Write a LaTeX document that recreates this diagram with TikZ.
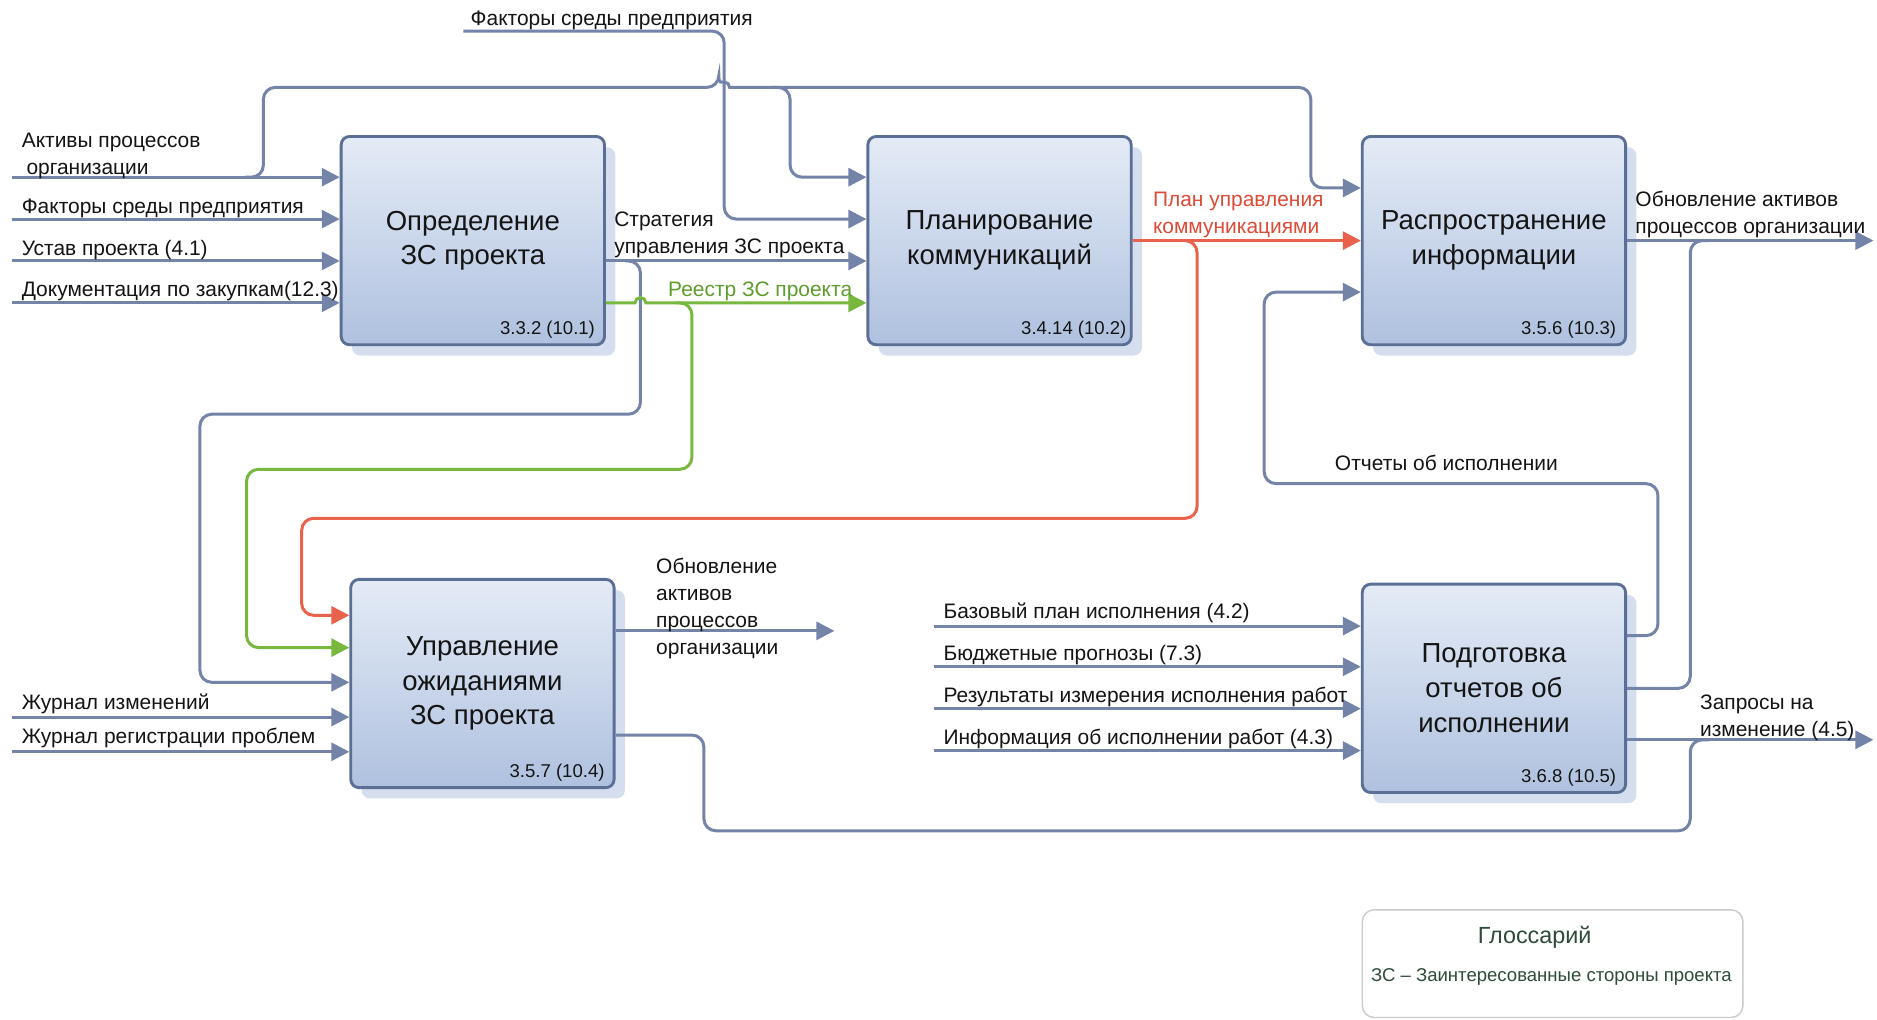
\documentclass[tikz,border=0pt]{standalone}
\usepackage{fontspec}
\setmainfont{Liberation Sans}
\usetikzlibrary{arrows.meta,calc,shadows}

\definecolor{flowc}{HTML}{7384A8}
\definecolor{greenc}{HTML}{79B83F}
\definecolor{redc}{HTML}{E8624C}
\definecolor{greentext}{HTML}{5E9C2C}
\definecolor{redtext}{HTML}{DD4A36}
\definecolor{boxtop}{HTML}{E4EBF6}
\definecolor{boxbot}{HTML}{AFC1DF}
\definecolor{boxline}{HTML}{5B6E96}
\definecolor{shadowc}{HTML}{D4DEEF}
\definecolor{glossline}{HTML}{C9CCCA}
\definecolor{glosstext}{HTML}{2E4A38}
\definecolor{labeltext}{HTML}{141414}

\tikzset{
  proc/.style={draw=boxline, line width=2.4pt, rounded corners=7pt,
    top color=boxtop, bottom color=boxbot,
    minimum width=220pt, minimum height=174pt, inner sep=0pt,
    align=center, font=\fontsize{23}{29}\selectfont, text=labeltext,
    drop shadow={shadow xshift=9pt, shadow yshift=-9pt, fill=shadowc, opacity=1}},
  procid/.style={font=\fontsize{15.5}{18}\selectfont, inner sep=0pt,
    anchor=south east, text=labeltext},
  wire/.style={draw=flowc, line width=2.5pt, rounded corners=10pt},
  flow/.style={wire, -{Triangle[length=15pt,width=15pt]}},
  gflow/.style={flow, draw=greenc},
  rflow/.style={flow, draw=redc},
  lab/.style={font=\fontsize{17.5}{22.5}\selectfont, inner sep=0pt,
    anchor=south west, align=left, text=labeltext,
    execute at end node=\strut},
}

\begin{document}
\begin{tikzpicture}[x=1pt, y=-1pt]
\useasboundingbox (0,0) rectangle (1568,852);
\fill[white] (0,0) rectangle (1568,852);

% process boxes
\node[proc] (b1) at (395,201) {Определение\\ЗС проекта};
\node[proc] (b2) at (835,201) {Планирование\\коммуникаций};
\node[proc] (b3) at (1248,201) {Распространение\\информации};
\node[proc] (b4) at (403,571) {Управление\\ожиданиями\\ЗС проекта};
\node[proc] (b5) at (1248,575) {Подготовка\\отчетов об\\исполнении};

\node[procid] (b1id) at ([xshift=-9pt,yshift=6pt]b1.south east) {3.3.2 (10.1)};
\node[procid] (b2id) at ([xshift=-5pt,yshift=6pt]b2.south east) {3.4.14 (10.2)};
\node[procid] (b3id) at ([xshift=-9pt,yshift=6pt]b3.south east) {3.5.6 (10.3)};
\node[procid] (b4id) at ([xshift=-9pt,yshift=6pt]b4.south east) {3.5.7 (10.4)};
\node[procid] (b5id) at ([xshift=-9pt,yshift=6pt]b5.south east) {3.6.8 (10.5)};

% free ends of the connectors
\coordinate (inA) at (10,148);
\coordinate (inF) at (10,183);
\coordinate (inU) at (10,218);
\coordinate (inD) at (10,253);
\coordinate (inT) at (387,26);
\coordinate (inJ1) at (10,599);
\coordinate (inJ2) at (10,628);
\coordinate (inP1) at (780,523);
\coordinate (inP2) at (780,557);
\coordinate (inP3) at (780,592);
\coordinate (inP4) at (780,627);
\coordinate (outO) at (1565,201);
\coordinate (outC) at (1565,618);
\coordinate (outB4) at (697,527);
% branch and merge points
\coordinate (jA) at (205,148);
\coordinate (jB) at (645,73);
\coordinate (jS) at (522,218);
\coordinate (jG) at (565,253);
\coordinate (jR) at (988,201);
\coordinate (mO) at (1428,201);
\coordinate (mC) at (1428,618);

% inputs of b1
\draw[flow] (inA) -- (b1.west |- inA);
\draw[flow] (inF) -- (b1.west |- inF);
\draw[flow] (inU) -- (b1.west |- inU);
\draw[flow] (inD) -- (b1.west |- inD);

% organisational assets to b2 and b3 (hop over the vertical line at x=605)
\draw[flow] (jA) -- (220,148) -- (220,73) -- (600.5,73) [sharp corners]
  arc[start angle=180, end angle=0, radius=4.5pt] -- (615,73) [rounded corners=10pt]
  -- (1095,73) -- (1095,157) -- (b3.west |- 0,157);
\draw[flow] (jB) -- (660,73) -- (660,148) -- (b2.west |- 0,148);

% enterprise factors to b2
\draw[flow] (inT) -- (605,26) -- (605,183) -- (b2.west |- 0,183);

% strategy from b1
\draw[flow] (b1.east |- 0,218) -- (b2.west |- 0,218);
\draw[flow] (jS) -- (535,218) -- (535,346) -- (167,346) -- (167,570) -- (b4.west |- 0,570);

% register from b1 (hop over the strategy branch)
\draw[gflow, sharp corners] (b1.east |- 0,253) -- (530.5,253)
  arc[start angle=180, end angle=0, radius=4.5pt] -- (b2.west |- 0,253);
\draw[gflow] (jG) -- (578,253) -- (578,392) -- (206,392) -- (206,541) -- (b4.west |- 0,541);

% communication plan from b2
\draw[rflow] (b2.east) -- (b3.west);
\draw[rflow] (jR) -- (1000,201) -- (1000,433) -- (252,433) -- (252,514) -- (b4.west |- 0,514);

% outputs of b3 and b5
\draw[flow] (b3.east) -- (outO);
\draw[wire] (b5.east) -- (1412,575) -- (1412,201) -- (mO);
\draw[flow] (b5.east |- 0,531) -- (1385,531) -- (1385,404) -- (1056,404) -- (1056,244) -- (b3.west |- 0,244);
\draw[flow] (b5.east |- outC) -- (outC);

% outputs of b4
\draw[flow] (b4.east |- outB4) -- (outB4);
\draw[wire] (b4.east |- 0,614) -- (588,614) -- (588,694) -- (1412,694) -- (1412,618) -- (mC);

% inputs of b4 and b5
\draw[flow] (inJ1) -- (b4.west |- inJ1);
\draw[flow] (inJ2) -- (b4.west |- inJ2);
\draw[flow] (inP1) -- (b5.west |- inP1);
\draw[flow] (inP2) -- (b5.west |- inP2);
\draw[flow] (inP3) -- (b5.west |- inP3);
\draw[flow] (inP4) -- (b5.west |- inP4);

% connector labels
\node[lab] (lT) at (393,28) {Факторы среды предприятия};
\node[lab] (lA) at (18,153) {Активы процессов\\\hspace*{4pt}организации};
\node[lab] (lF) at (18,185) {Факторы среды предприятия};
\node[lab] (lU) at (18,220) {Устав проекта (4.1)};
\node[lab] (lD) at (18,255) {Документация по закупкам(12.3)};
\node[lab] (lS) at (513,219) {Стратегия\\управления ЗС проекта};
\node[lab, text=greentext] (lG) at (558,255) {Реестр ЗС проекта};
\node[lab, text=redtext] (lR) at (963,202) {План управления\\коммуникациями};
\node[lab] (lO) at (1366,202) {Обновление активов\\процессов организации};
\node[lab] (lP) at (1115,400) {Отчеты об исполнении};
\node[lab, anchor=north west] (lB4) at (548,466) {Обновление\\активов\\процессов\\организации};
\node[lab] (lJ1) at (18,600) {Журнал изменений};
\node[lab] (lJ2) at (18,628) {Журнал регистрации проблем};
\node[lab] (lP1) at (788,524) {Базовый план исполнения (4.2)};
\node[lab] (lP2) at (788,559) {Бюджетные прогнозы (7.3)};
\node[lab] (lP3) at (788,594) {Результаты измерения исполнения работ};
\node[lab] (lP4) at (788,629) {Информация об исполнении работ (4.3)};
\node[lab] (lC) at (1420,622) {Запросы на\\изменение (4.5)};

% glossary
\node[draw=glossline, line width=1.2pt, rounded corners=10pt,
  minimum width=318pt, minimum height=90pt] (gl) at (1297,805) {};
\node[font=\fontsize{19.5}{23}\selectfont, text=glosstext] (glt) at (1282,783) {Глоссарий};
\node[font=\fontsize{15.5}{19}\selectfont, text=glosstext] (glb) at (1296,816) {ЗС – Заинтересованные стороны проекта};
\end{tikzpicture}
\end{document}
